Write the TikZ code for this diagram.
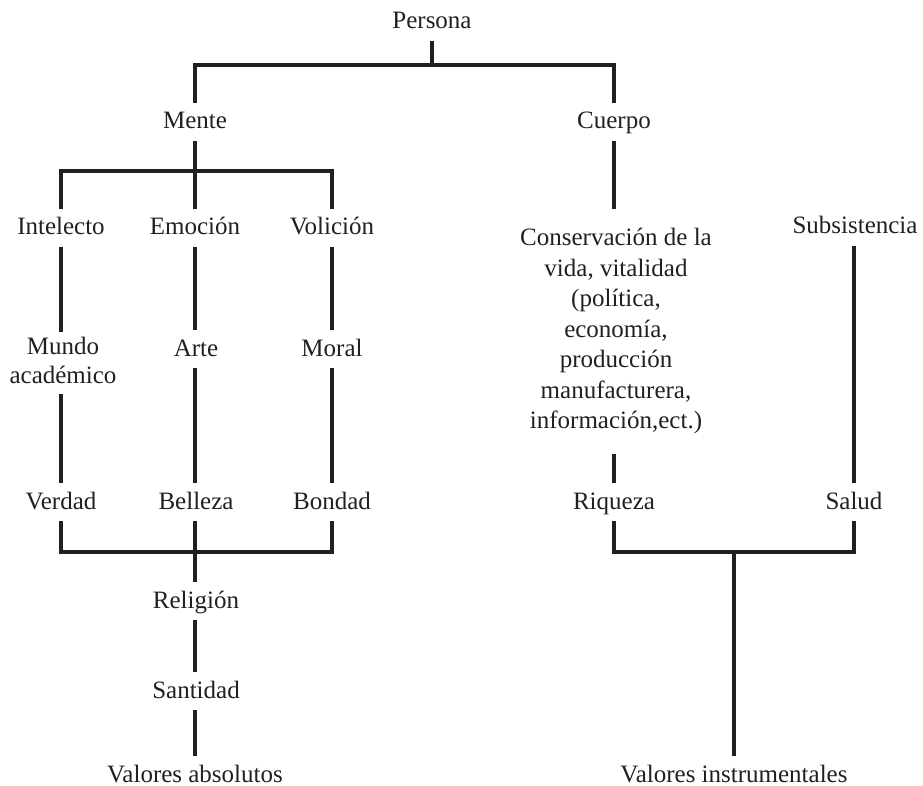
\documentclass[tikz,border=0pt]{standalone}
\usepackage{fontspec}
\setmainfont{Liberation Serif}
\usetikzlibrary{calc}
\definecolor{ink}{HTML}{231F20}
\tikzset{
  lbl/.style={inner sep=0pt, anchor=base, text height=26pt, text depth=12pt,
    font=\fontsize{25}{30}\selectfont, text=ink},
  mlbl/.style={inner sep=0pt, anchor=north, align=center, text=ink},
  conn/.style={draw=ink, line width=3.2pt, line join=miter},
}
\begin{document}
\begin{tikzpicture}[x=1pt,y=1pt]
\useasboundingbox (0,0) rectangle (923,-786);
% nodes
\node[lbl] (persona) at (432,-29) {Persona};
\node[lbl] (mente) at (195,-129) {Mente};
\node[lbl] (cuerpo) at (614,-129) {Cuerpo};
\node[lbl] (intelecto) at (61,-235) {Intelecto};
\node[lbl] (emocion) at (195,-235) {Emoción};
\node[lbl] (volicion) at (332,-235) {Volición};
\node[lbl] (subs) at (855,-234) {Subsistencia};
\node[mlbl, font=\fontsize{25}{29}\selectfont] (mundo) at (63,-337) {Mundo\\académico};
\node[lbl] (arte) at (196,-356) {Arte};
\node[lbl] (moral) at (332,-356) {Moral};
\node[mlbl, font=\fontsize{25}{30.5}\selectfont] (cons) at (616,-228)
  {Conservación de la\\vida, vitalidad\\(política,\\economía,\\producción\\manufacturera,\\información,ect.)};
\node[lbl] (verdad) at (61,-509) {Verdad};
\node[lbl] (belleza) at (196,-509) {Belleza};
\node[lbl] (bondad) at (332,-509) {Bondad};
\node[lbl] (riqueza) at (614,-509) {Riqueza};
\node[lbl] (salud) at (854,-509) {Salud};
\node[lbl] (religion) at (196,-608) {Religión};
\node[lbl] (santidad) at (196,-698) {Santidad};
\node[lbl] (valabs) at (195,-782) {Valores absolutos};
\node[lbl] (valinst) at (734,-782) {Valores instrumentales};
% junctions
\coordinate (j1) at (432,-65);
\coordinate (j2) at (195,-171);
\coordinate (j3) at (195,-552);
\coordinate (j4) at (734,-552);
% connectors
\draw[conn] (persona.south) -- (j1);
\draw[conn] (mente.north -| j2) |- (j1) -| (cuerpo.north);
\draw[conn] (mente.south -| j2) -- (emocion.north -| j2);
\draw[conn] (intelecto.north) |- (j2) -| (volicion.north);
% left column
\draw[conn] (intelecto.south) -- ($(intelecto.south |- mundo.north)+(0,5)$);
\draw[conn] ($(intelecto.south |- mundo.south)+(0,-10)$) -- (verdad.north);
% middle column
\draw[conn] (emocion.south -| j2) -- (arte.north -| j2);
\draw[conn] (arte.south -| j2) -- (belleza.north -| j2);
% right column of mind
\draw[conn] (volicion.south) -- (moral.north);
\draw[conn] (moral.south) -- (bondad.north);
% bottom of mind
\draw[conn] (verdad.south) |- (j3) -| (bondad.south);
\draw[conn] (belleza.south -| j3) -- (religion.north -| j3);
\draw[conn] (religion.south -| j3) -- (santidad.north -| j3);
\draw[conn] (santidad.south -| j3) -- (valabs.north);
% body
\draw[conn] (cuerpo.south) -- ($(cuerpo.south |- cons.north)+(0,19)$);
\draw[conn] ($(riqueza.north |- cons.south)+(0,-20)$) -- (riqueza.north);
\draw[conn] (subs.south -| salud.north) -- (salud.north);
\draw[conn] (riqueza.south) |- (j4) -| (salud.south);
\draw[conn] (j4) -- (valinst.north);
\end{tikzpicture}
\end{document}
